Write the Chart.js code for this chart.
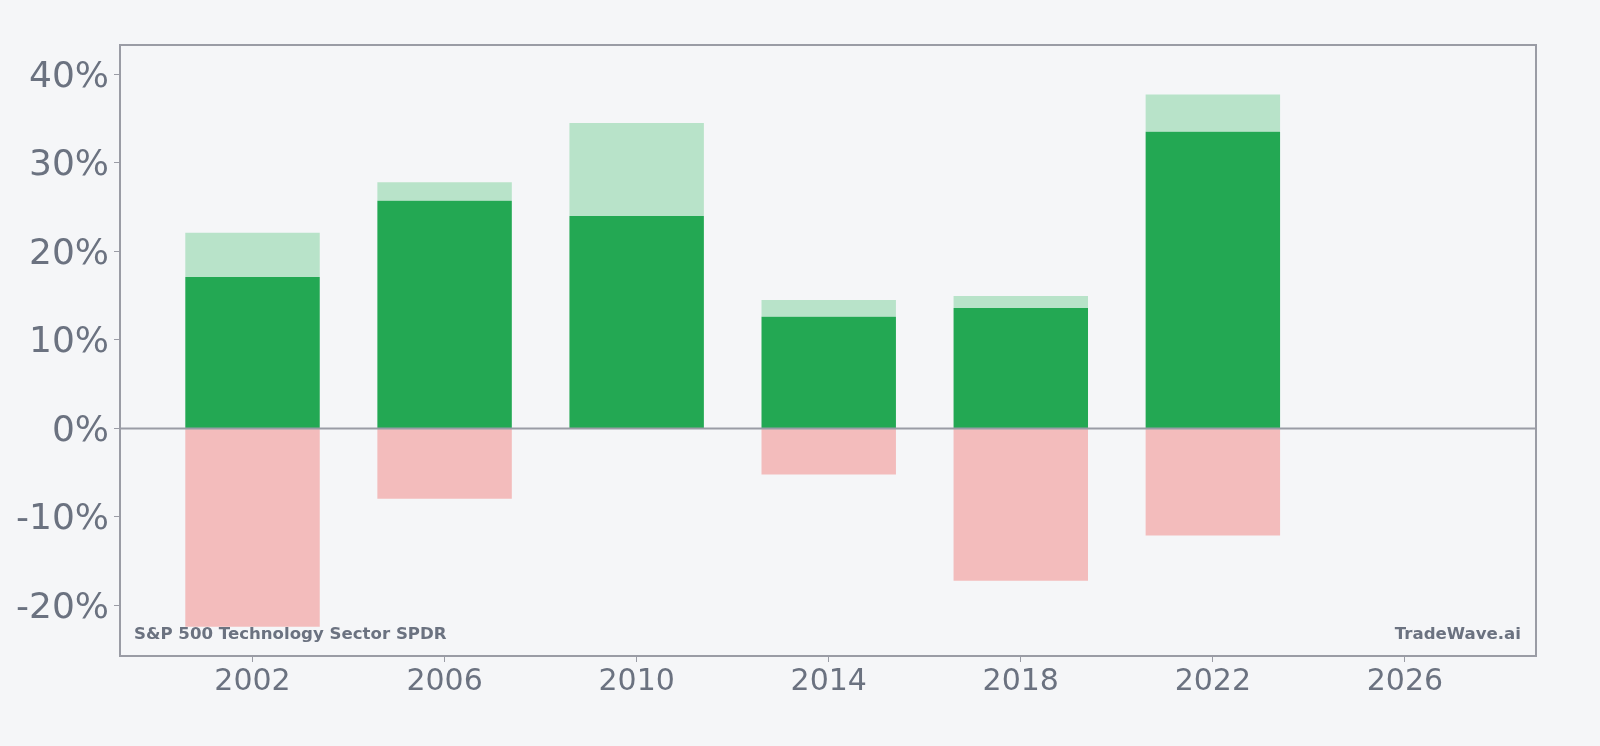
<!DOCTYPE html>
<html>
<head>
<meta charset="utf-8">
<script src="https://cdn.jsdelivr.net/npm/chart.js@4"></script>
<style>
  html, body { margin: 0; padding: 0; background: #f5f6f8; }
  #wrap { width: 1600px; height: 746px; }
</style>
</head>
<body>
<div id="wrap"><canvas id="chart"></canvas></div>
<script>
// data (percent)
const years = [2002, 2006, 2010, 2014, 2018, 2022];
const returns = [17.1, 25.7, 24.0, 12.6, 13.6, 33.5];
const highs = [22.1, 27.8, 34.5, 14.5, 14.95, 37.7];
const lows = [-22.4, -7.95, 0, -5.2, -17.2, -12.1];
const yTicks = [-20, -10, 0, 10, 20, 30, 40];
const xTicks = [2002, 2006, 2010, 2014, 2018, 2022, 2026];

const axisGray = '#9a9ca5';
const textGray = '#6b7280';

// zero line + frame + watermark texts
const extras = {
    id: 'extras',
    afterDatasetsDraw(chart) {
        const { ctx, chartArea: a, scales } = chart;
        const y0 = scales.y.getPixelForValue(0);
        ctx.save();
        ctx.strokeStyle = axisGray;
        ctx.lineWidth = 2;
        ctx.beginPath();
        ctx.moveTo(a.left, y0);
        ctx.lineTo(a.right, y0);
        ctx.stroke();
        ctx.strokeRect(a.left, a.top, a.right - a.left, a.bottom - a.top);

        ctx.fillStyle = textGray;
        ctx.font = 'bold 16.6px "DejaVu Sans"';
        ctx.textBaseline = 'middle';
        ctx.textAlign = 'left';
        ctx.fillText('S&P 500 Technology Sector SPDR', a.left + 14, a.bottom - 21);
        ctx.textAlign = 'right';
        ctx.fillText('TradeWave.ai', a.right - 15, a.bottom - 21);
        ctx.restore();
    }
};

new Chart(document.getElementById('chart'), {
    type: 'bar',
    data: {
        datasets: [
            {
                label: 'Return',
                data: years.map((x, i) => ({ x: x, y: [0, returns[i]] })),
                backgroundColor: '#23a853'
            },
            {
                label: 'High',
                data: years.map((x, i) => ({ x: x, y: [returns[i], highs[i]] })),
                backgroundColor: '#b8e3c9'
            },
            {
                label: 'Low',
                data: years.map((x, i) => ({ x: x, y: lows[i] === 0 ? null : [lows[i], 0] })),
                backgroundColor: '#f3bcbc'
            }
        ]
    },
    options: {
        responsive: true,
        maintainAspectRatio: false,
        animation: false,
        grouped: false,
        barPercentage: 0.7,
        categoryPercentage: 1,
        layout: { padding: { top: 45, right: 64, bottom: 0, left: 0 } },
        plugins: {
            legend: { display: false },
            tooltip: { enabled: false }
        },
        scales: {
            x: {
                type: 'linear',
                offset: false,
                min: 1999.24,
                max: 2028.73,
                afterBuildTicks: s => { s.ticks = xTicks.map(v => ({ value: v })); },
                afterFit: s => { s.height = 90; },
                grid: { offset: false, drawOnChartArea: false, drawTicks: true, tickLength: 6, color: axisGray },
                border: { display: false },
                ticks: {
                    color: textGray,
                    font: { family: 'DejaVu Sans', size: 30 },
                    padding: 2,
                    maxRotation: 0,
                    callback: v => String(v)
                }
            },
            y: {
                min: -25.7,
                max: 43.3,
                afterBuildTicks: s => { s.ticks = yTicks.map(v => ({ value: v })); },
                afterFit: s => { s.width = 120; },
                grid: { drawOnChartArea: false, drawTicks: true, tickLength: 6, color: axisGray },
                border: { display: false },
                ticks: {
                    color: textGray,
                    font: { family: 'DejaVu Sans', size: 36 },
                    padding: 5,
                    labelOffset: 3,
                    callback: v => v + '%'
                }
            }
        }
    },
    plugins: [extras]
});
</script>
</body>
</html>
